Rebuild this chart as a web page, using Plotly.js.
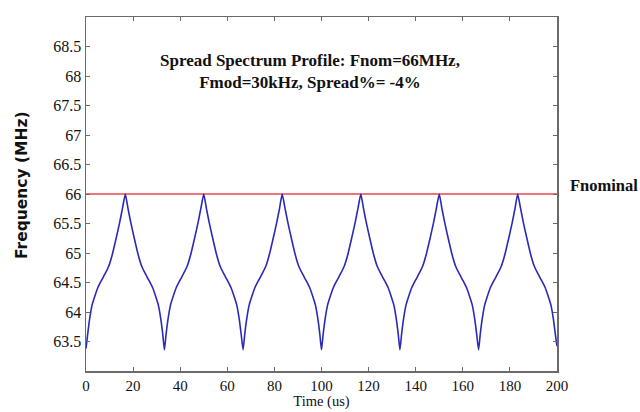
<!DOCTYPE html>
<html>
<head>
<meta charset="utf-8">
<script src="https://cdn.plot.ly/plotly-3.0.1.min.js"></script>
<style>
html,body{margin:0;padding:0;background:#fff;}
#chart{width:640px;height:412px;}
</style>
</head>
<body>
<div id="chart"></div>
<script>
// Time (us) of the sampled points on the spread-spectrum profile
var timeUs = [
  0, 0.7, 1.5, 2.6, 3.6, 5.0, 6.5, 8.0, 9.6, 11.2, 12.8, 14.3, 15.5, 16.7, 17.8, 19.0, 20.5, 22.1, 23.7, 25.3, 26.8, 28.3, 29.7, 30.7, 31.8, 32.6,
  33.3, 34.0, 34.8, 35.9, 36.9, 38.3, 39.8, 41.3, 42.9, 44.5, 46.1, 47.6, 48.8, 50.0, 51.1, 52.3, 53.8, 55.4, 57.0, 58.6, 60.1, 61.6, 63.0, 64.0, 65.1, 65.9,
  66.7, 67.4, 68.2, 69.3, 70.3, 71.7, 73.2, 74.7, 76.3, 77.9, 79.5, 81.0, 82.2, 83.3, 84.5, 85.7, 87.2, 88.8, 90.4, 92.0, 93.5, 95.0, 96.4, 97.4, 98.5, 99.3,
  100, 100.7, 101.5, 102.6, 103.6, 105.0, 106.5, 108.0, 109.6, 111.2, 112.8, 114.3, 115.5, 116.7, 117.8, 119.0, 120.5, 122.1, 123.7, 125.3, 126.8, 128.3, 129.7, 130.7, 131.8, 132.6,
  133.3, 134.0, 134.8, 135.9, 136.9, 138.3, 139.8, 141.3, 142.9, 144.5, 146.1, 147.6, 148.8, 150.0, 151.1, 152.3, 153.8, 155.4, 157.0, 158.6, 160.1, 161.6, 163.0, 164.0, 165.1, 165.9,
  166.7, 167.4, 168.2, 169.3, 170.3, 171.7, 173.2, 174.7, 176.3, 177.9, 179.5, 181.0, 182.2, 183.3, 184.5, 185.7, 187.2, 188.8, 190.4, 192.0, 193.5, 195.0, 196.4, 197.4, 198.5, 199.3,
  200
];
// Frequency (MHz)
var freqMHz = [
  63.38, 63.62, 63.87, 64.12, 64.25, 64.41, 64.53, 64.64, 64.77, 64.98, 65.25, 65.52, 65.76, 66.00, 65.76, 65.52, 65.25, 64.98, 64.77, 64.64, 64.53, 64.41, 64.25, 64.12, 63.87, 63.62,
  63.36, 63.62, 63.87, 64.12, 64.25, 64.41, 64.53, 64.64, 64.77, 64.98, 65.25, 65.52, 65.76, 66.00, 65.76, 65.52, 65.25, 64.98, 64.77, 64.64, 64.53, 64.41, 64.25, 64.12, 63.87, 63.62,
  63.36, 63.62, 63.87, 64.12, 64.25, 64.41, 64.53, 64.64, 64.77, 64.98, 65.25, 65.52, 65.76, 66.00, 65.76, 65.52, 65.25, 64.98, 64.77, 64.64, 64.53, 64.41, 64.25, 64.12, 63.87, 63.62,
  63.36, 63.62, 63.87, 64.12, 64.25, 64.41, 64.53, 64.64, 64.77, 64.98, 65.25, 65.52, 65.76, 66.00, 65.76, 65.52, 65.25, 64.98, 64.77, 64.64, 64.53, 64.41, 64.25, 64.12, 63.87, 63.62,
  63.36, 63.62, 63.87, 64.12, 64.25, 64.41, 64.53, 64.64, 64.77, 64.98, 65.25, 65.52, 65.76, 66.00, 65.76, 65.52, 65.25, 64.98, 64.77, 64.64, 64.53, 64.41, 64.25, 64.12, 63.87, 63.62,
  63.36, 63.62, 63.87, 64.12, 64.25, 64.41, 64.53, 64.64, 64.77, 64.98, 65.25, 65.52, 65.76, 66.00, 65.76, 65.52, 65.25, 64.98, 64.77, 64.64, 64.53, 64.41, 64.25, 64.12, 63.87, 63.62,
  63.42
];
// Nominal frequency line
var nominalTime = [0, 200];
var nominalFreq = [66, 66];

var xTicks = [0, 20, 40, 60, 80, 100, 120, 140, 160, 180, 200];
var yTicks = [63.5, 64, 64.5, 65, 65.5, 66, 66.5, 67, 67.5, 68, 68.5];
var yTickLabels = ['63.5', '64', '64.5', '65', '65.5', '66', '66.5', '67', '67.5', '68', '68.5'];

var titleText = '<b>Spread Spectrum Profile: Fnom=66MHz,<br>Fmod=30kHz, Spread%= -4%</b>';
var nominalLabel = '<b>Fnominal</b>';
var yTitle = '<b>Frequency (MHz)</b>';
var xTitle = 'Time (us)';

var traces = [
  {x: nominalTime, y: nominalFreq, mode: 'lines', line: {color: '#ec4651', width: 1.6}, hoverinfo: 'skip'},
  {x: timeUs, y: freqMHz, mode: 'lines', line: {color: '#2a2ab8', width: 1.6, shape: 'spline', smoothing: 0.5}}
];

var serif = 'Liberation Serif, Times New Roman, serif';
var axisCommon = {
  showline: true, linecolor: '#6a6a6a', linewidth: 1.5, mirror: 'ticks',
  ticks: 'inside', ticklen: 4, tickcolor: '#6a6a6a', tickwidth: 1,
  showgrid: false, zeroline: false, fixedrange: true
};

var layout = {
  width: 640, height: 412,
  margin: {l: 86, r: 83, t: 17, b: 41},
  paper_bgcolor: '#ffffff', plot_bgcolor: '#ffffff',
  showlegend: false,
  xaxis: Object.assign({}, axisCommon, {
    range: [0, 200], tickvals: xTicks, ticktext: xTicks.map(String),
    tickfont: {family: serif, size: 15, color: '#111'},
    title: {text: xTitle, font: {family: serif, size: 14.5, color: '#111'}, standoff: 1}
  }),
  yaxis: Object.assign({}, axisCommon, {
    range: [63, 69], tickvals: yTicks, ticktext: yTickLabels,
    tickfont: {family: serif, size: 16, color: '#111'}
  }),
  annotations: [
    {xref: 'paper', yref: 'paper', x: 0.4756, y: 0.845, xanchor: 'center', yanchor: 'middle',
     text: titleText, showarrow: false, align: 'center',
     font: {family: serif, size: 17, color: '#111'}},
    {xref: 'paper', yref: 'y', x: 1.0234, y: 66.15, xanchor: 'left', yanchor: 'middle',
     text: nominalLabel, showarrow: false,
     font: {family: serif, size: 16.5, color: '#111'}},
    {xref: 'paper', yref: 'paper', x: -0.136, y: 0.525, xanchor: 'center', yanchor: 'middle',
     text: yTitle, showarrow: false, textangle: -90,
     font: {family: 'DejaVu Sans, sans-serif', size: 15.5, color: '#111'}}
  ]
};

Plotly.newPlot('chart', traces, layout, {displayModeBar: false, staticPlot: true});
</script>
</body>
</html>
